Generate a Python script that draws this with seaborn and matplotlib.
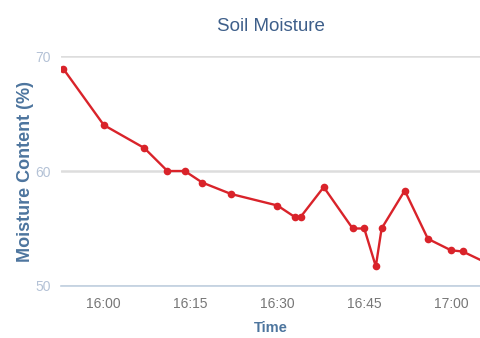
import seaborn as sns
import matplotlib.pyplot as plt
import matplotlib.dates as mdates
import pandas as pd

times = ['15:53', '16:00', '16:07', '16:11', '16:14', '16:17', '16:22', '16:30',
         '16:33', '16:34', '16:38', '16:43', '16:45', '16:47', '16:48', '16:52',
         '16:56', '17:00', '17:02', '17:07']
moisture = [68.9, 64, 62, 60, 60, 59, 58, 57,
            56, 56, 58.6, 55, 55, 51.7, 55, 58.3,
            54.1, 53.1, 53, 51.8]
y_ticks = [50, 60, 70]

data = pd.DataFrame({'time': pd.to_datetime(['2020-01-01 ' + t for t in times]),
                     'moisture': moisture})

sns.set_style('white')
plt.rcParams['font.family'] = ['Liberation Sans', 'DejaVu Sans']

fig = plt.figure(figsize=(4.8, 3.38), dpi=100)
ax = fig.add_axes([0.127, 0.154, 0.873, 0.68])

sns.lineplot(data=data, x='time', y='moisture', ax=ax, color='#d9232a',
             marker='o', markersize=5.5, markeredgewidth=0, linewidth=1.7,
             clip_on=True)

ax.set_ylim(50, 70)
ax.set_yticks(y_ticks)
ax.set_xlim(pd.Timestamp('2020-01-01 15:52:36'), pd.Timestamp('2020-01-01 17:05'))
ax.xaxis.set_major_locator(mdates.MinuteLocator(byminute=[0, 15, 30, 45]))
ax.xaxis.set_major_formatter(mdates.DateFormatter('%H:%M'))

ax.grid(axis='y', color='#dddddd', linewidth=1.8)
ax.set_axisbelow(True)
for s in ['top', 'right', 'left']:
    ax.spines[s].set_visible(False)
ax.spines['bottom'].set_color('#c0d0e0')
ax.spines['bottom'].set_linewidth(1.2)

ax.tick_params(axis='x', colors='#c0d0e0', length=5, width=1, labelsize=10,
               labelcolor='#777777', pad=3)
ax.tick_params(axis='y', length=0, labelsize=10, labelcolor='#b4c2d6', pad=7)

ax.set_title('Soil Moisture', fontsize=13.5, color='#3e5f8a', pad=18)
ax.set_xlabel('Time', fontsize=10.5, fontweight='bold', color='#4d759e', labelpad=7)
ax.set_ylabel('Moisture Content (%)', fontsize=13, fontweight='bold', color='#4d759e',
              labelpad=1)

fig.savefig('out.png', dpi=100)
